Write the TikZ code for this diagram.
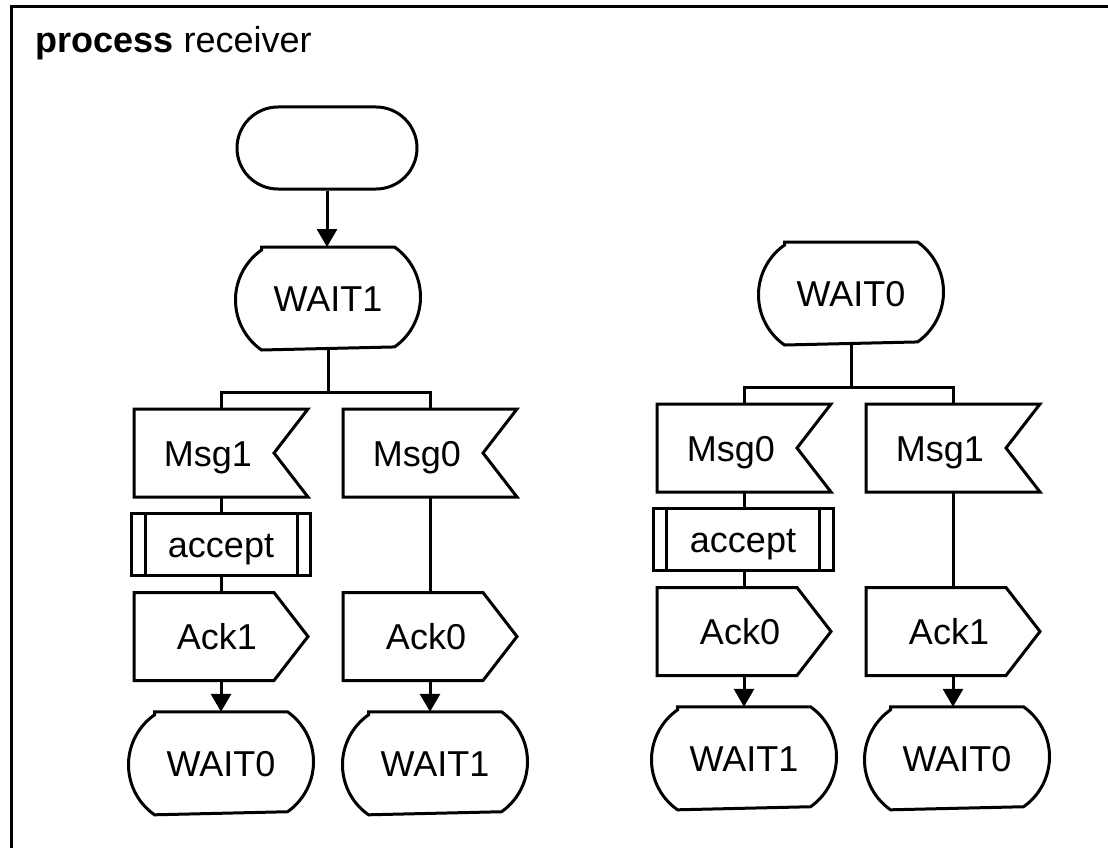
\documentclass[tikz,border=0pt]{standalone}
\usepackage{fontspec}
\setmainfont{Liberation Sans}
\usetikzlibrary{calc,arrows.meta}
\begin{document}
\begin{tikzpicture}[x=1pt,y=-1pt,line width=3pt,
  base/.style={inner sep=0pt,font=\fontsize{36}{43}\selectfont,text height=26pt,text depth=0pt},
  startbox/.style={base,draw,rounded corners=41pt,minimum width=180pt,minimum height=82pt},
  statebox/.style={base,minimum width=182pt,minimum height=100pt},
  inbox/.style={base,minimum width=171pt,minimum height=85pt,execute at end node={\kern26pt}},
  outbox/.style={base,minimum width=171pt,minimum height=85pt,execute at end node={\kern8pt}},
  procbox/.style={base,draw,minimum width=179pt,minimum height=62pt},
  outline/.style={line width=3pt},
  flow/.style={line width=3pt},
  arrow/.style={flow,-{Triangle[width=20pt,length=18pt]}},
]
\useasboundingbox (0,0) rectangle (1108,848);
\clip (0,0) rectangle (1108,848);

% diagram frame
\draw (1120,7) -- (11,7) -- (11,860);
\node[anchor=base west,inner sep=0pt,font=\fontsize{36}{43}\selectfont] (title) at (34,53) {\textbf{process} receiver};

% left branch: start transition
\node[startbox] (start) at (327,148) {};
\node[statebox] (sw1) at (328,298.5) {WAIT1};
\coordinate (jl) at (328,392);
\node[inbox] (inA) at (221,453) {Msg1};
\node[inbox] (inB) at (430,453) {Msg0};
\node[procbox] (accA) at (221,544) {accept};
\node[outbox] (outA) at (221,636.5) {Ack1};
\node[outbox] (outB) at (430,636.5) {Ack0};
\node[statebox] (stA) at (221,763.3) {WAIT0};
\node[statebox] (stB) at (435,763.3) {WAIT1};

% right branch
\node[statebox] (sw0) at (851,293.5) {WAIT0};
\coordinate (jr) at (851,387);
\node[inbox] (inC) at (744,448) {Msg0};
\node[inbox] (inD) at (953,448) {Msg1};
\node[procbox,minimum width=180pt] (accC) at (743,539) {accept};
\node[outbox] (outC) at (744,631.5) {Ack0};
\node[outbox] (outD) at (953,631.5) {Ack1};
\node[statebox] (stC) at (744,758.3) {WAIT1};
\node[statebox] (stD) at (957,758.3) {WAIT0};

% state symbols: flat top and bottom, circular sides
\foreach \n in {sw1,sw0,stA,stB,stC,stD}{
  \draw[outline] ($(\n.north west)+(26,0)$) -- ($(\n.north east)+(-26,0)$)
    arc[start angle=55,end angle=-55,radius=61pt]
    -- ($(\n.south west)+(26,0)$)
    arc[start angle=235,end angle=125,radius=61pt] -- cycle;
}
% input symbols
\foreach \n in {inA,inB,inC,inD}{
  \draw[outline] (\n.north west) -- (\n.north east) -- ($(\n.east)+(-34,0)$)
    -- (\n.south east) -- (\n.south west) -- cycle;
}
% output symbols
\foreach \n in {outA,outB,outC,outD}{
  \draw[outline] (\n.north west) -- ($(\n.north east)+(-34,0)$) -- (\n.east)
    -- ($(\n.south east)+(-34,0)$) -- (\n.south west) -- cycle;
}
% procedure call bars
\foreach \n in {accA,accC}{
  \draw[outline] ($(\n.north west)+(15,0)$) -- ($(\n.south west)+(15,0)$);
  \draw[outline] ($(\n.north east)+(-15,0)$) -- ($(\n.south east)+(-15,0)$);
}

% connectors, left
\draw[arrow] (start.south) -- (start.south |- sw1.north);
\draw[flow] (sw1.south) -- (jl);
\draw[flow] (inA.north) |- (jl) -| (inB.north);
\draw[flow] (inA.south) -- (accA.north);
\draw[flow] (accA.south) -- (outA.north);
\draw[flow] (inB.south) -- (outB.north);
\draw[arrow] (outA.south) -- (stA.north);
\draw[arrow] (outB.south) -- (outB.south |- stB.north);

% connectors, right
\draw[flow] (sw0.south) -- (jr);
\draw[flow] (inC.north) |- (jr) -| (inD.north);
\draw[flow] (inC.south) -- (inC.south |- accC.north);
\draw[flow] (outC.north |- accC.south) -- (outC.north);
\draw[flow] (inD.south) -- (outD.north);
\draw[arrow] (outC.south) -- (stC.north);
\draw[arrow] (outD.south) -- (outD.south |- stD.north);
\end{tikzpicture}
\end{document}
